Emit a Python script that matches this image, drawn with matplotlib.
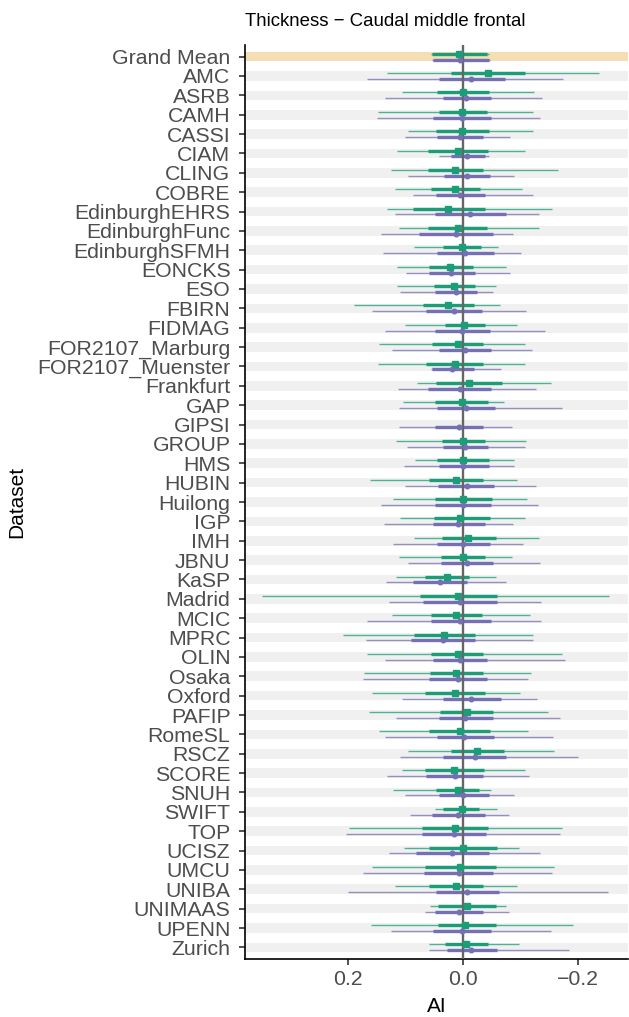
import numpy as np
import matplotlib.pyplot as plt

plt.rcParams["font.family"] = ["Liberation Sans", "DejaVu Sans"]

datasets = [
    "Grand Mean", "AMC", "ASRB", "CAMH", "CASSI", "CIAM", "CLING", "COBRE",
    "EdinburghEHRS", "EdinburghFunc", "EdinburghSFMH", "EONCKS", "ESO",
    "FBIRN", "FIDMAG", "FOR2107_Marburg", "FOR2107_Muenster", "Frankfurt",
    "GAP", "GIPSI", "GROUP", "HMS", "HUBIN", "Huilong", "IGP", "IMH", "JBNU",
    "KaSP", "Madrid", "MCIC", "MPRC", "OLIN", "Osaka", "Oxford", "PAFIP",
    "RomeSL", "RSCZ", "SCORE", "SNUH", "SWIFT", "TOP", "UCISZ", "UMCU",
    "UNIBA", "UNIMAAS", "UPENN", "Zurich",
]

nan = np.nan

# first group: median, 66% and 95% intervals
green_med = [0.007, -0.043, 0.000, 0.002, 0.002, 0.010, 0.014, 0.014, 0.026, 0.010,
             0.002, 0.023, 0.016, 0.026, -0.002, 0.009, 0.014, -0.010, 0.003, nan,
             0.000, 0.000, 0.012, 0.000, 0.005, -0.009, 0.000, 0.028, 0.009, 0.012,
             0.033, 0.010, 0.013, 0.014, -0.006, 0.005, -0.024, 0.016, 0.010, 0.003,
             0.014, 0.000, 0.005, 0.012, -0.007, -0.003, -0.005]
green_hi66 = [0.055, 0.021, 0.045, 0.043, 0.047, 0.062, 0.061, 0.056, 0.088, 0.061,
              0.035, 0.060, 0.051, 0.070, 0.032, 0.054, 0.065, 0.048, 0.049, nan,
              0.037, 0.045, 0.060, 0.049, 0.051, 0.037, 0.038, 0.067, 0.075, 0.056,
              0.086, 0.056, 0.058, 0.066, 0.041, 0.059, 0.021, 0.067, 0.048, 0.035,
              0.071, 0.059, 0.066, 0.059, 0.044, 0.044, 0.032]
green_lo66 = [-0.042, -0.108, -0.044, -0.042, -0.044, -0.043, -0.034, -0.029, -0.037, -0.041,
              -0.031, -0.016, -0.021, -0.019, -0.038, -0.035, -0.035, -0.068, -0.043, nan,
              -0.038, -0.045, -0.035, -0.050, -0.046, -0.056, -0.038, -0.010, -0.059, -0.032,
              -0.020, -0.035, -0.035, -0.038, -0.052, -0.046, -0.071, -0.036, -0.027, -0.028,
              -0.043, -0.058, -0.057, -0.034, -0.057, -0.056, -0.043]
green_hi95 = [0.056, 0.132, 0.107, 0.149, 0.096, 0.115, 0.126, 0.118, 0.133, 0.112,
              0.086, 0.115, 0.115, 0.190, 0.102, 0.147, 0.148, 0.081, 0.105, nan,
              0.117, 0.084, 0.162, 0.123, 0.110, 0.085, 0.111, 0.117, 0.350, 0.124,
              0.210, 0.168, 0.173, 0.158, 0.164, 0.146, 0.097, 0.106, 0.123, 0.049,
              0.198, 0.103, 0.158, 0.118, 0.058, 0.161, 0.060]
green_lo95 = [-0.044, -0.236, -0.123, -0.121, -0.121, -0.107, -0.164, -0.102, -0.155, -0.131,
              -0.061, -0.074, -0.056, -0.064, -0.094, -0.107, -0.108, -0.152, -0.070, nan,
              -0.109, -0.089, -0.093, -0.111, -0.108, -0.132, -0.084, -0.057, -0.254, -0.116,
              -0.121, -0.172, -0.117, -0.099, -0.148, -0.112, -0.157, -0.107, -0.048, -0.059,
              -0.172, -0.096, -0.157, -0.093, -0.075, -0.190, -0.096]

# second group
purple_med = [0.005, -0.013, -0.005, 0.003, 0.006, -0.007, -0.006, 0.006, -0.011, 0.013,
              -0.003, 0.021, 0.013, 0.017, 0.002, -0.003, 0.019, 0.006, -0.004, 0.008,
              -0.003, 0.000, -0.006, 0.001, 0.009, 0.000, -0.006, 0.041, 0.006, 0.005,
              0.035, 0.005, 0.009, -0.014, -0.003, -0.002, -0.020, 0.015, 0.000, 0.009,
              0.016, 0.019, 0.008, -0.006, 0.008, 0.002, -0.013]
purple_hi66 = [0.053, 0.043, 0.035, 0.053, 0.046, 0.022, 0.034, 0.048, 0.050, 0.077,
               0.046, 0.060, 0.050, 0.065, 0.049, 0.043, 0.055, 0.061, 0.046, 0.049,
               0.035, 0.042, 0.044, 0.050, 0.053, 0.045, 0.038, 0.088, 0.070, 0.057,
               0.091, 0.052, 0.060, 0.035, 0.042, 0.046, 0.035, 0.065, 0.043, 0.054,
               0.071, 0.082, 0.068, 0.048, 0.049, 0.052, 0.028]
purple_lo66 = [-0.045, -0.072, -0.048, -0.048, -0.035, -0.038, -0.046, -0.038, -0.074, -0.051,
               -0.054, -0.020, -0.023, -0.032, -0.046, -0.049, -0.019, -0.048, -0.055, -0.035,
               -0.043, -0.045, -0.053, -0.048, -0.038, -0.047, -0.051, -0.006, -0.059, -0.048,
               -0.020, -0.042, -0.041, -0.065, -0.051, -0.053, -0.075, -0.034, -0.045, -0.037,
               -0.039, -0.044, -0.052, -0.062, -0.035, -0.048, -0.058]
purple_hi95 = [0.054, 0.168, 0.136, 0.150, 0.101, 0.043, 0.096, 0.088, 0.119, 0.144,
               0.139, 0.100, 0.110, 0.158, 0.136, 0.124, 0.057, 0.114, 0.112, 0.112,
               0.098, 0.103, 0.102, 0.144, 0.138, 0.123, 0.096, 0.134, 0.129, 0.167,
               0.169, 0.136, 0.174, 0.106, 0.117, 0.136, 0.110, 0.132, 0.101, 0.093,
               0.204, 0.129, 0.175, 0.201, 0.066, 0.126, 0.059]
purple_lo95 = [-0.047, -0.174, -0.136, -0.134, -0.081, -0.045, -0.088, -0.122, -0.132, -0.086,
               -0.100, -0.081, -0.051, -0.109, -0.142, -0.120, -0.066, -0.126, -0.171, -0.084,
               -0.107, -0.089, -0.127, -0.130, -0.087, -0.103, -0.134, -0.075, -0.135, -0.135,
               -0.122, -0.176, -0.113, -0.129, -0.168, -0.156, -0.199, -0.115, -0.088, -0.079,
               -0.169, -0.134, -0.154, -0.251, -0.079, -0.153, -0.184]

GREEN = "#1B9E77"
PURPLE = "#7570B3"

fig = plt.figure(figsize=(6.29, 10.17), dpi=100)
ax = fig.add_axes([245 / 629, 58 / 1017, 383 / 629, 914 / 1017])

y = np.arange(len(datasets))

# row bands, grand mean highlighted
for i in y:
    ax.axhspan(i - 0.25, i + 0.25, color="#F5DEB3" if i == 0 else "#F0F0F0",
               lw=0, zorder=0)

series = [
    (green_med, green_lo66, green_hi66, green_lo95, green_hi95, GREEN, "s", 4.0, -0.15),
    (purple_med, purple_lo66, purple_hi66, purple_lo95, purple_hi95, PURPLE, "o", 3.3, 0.15),
]
for med, lo66, hi66, lo95, hi95, col, mk, ms, dy in series:
    med = np.array(med)
    ok = ~np.isnan(med)
    yy = y[ok] + dy
    ax.hlines(yy, np.array(lo95)[ok], np.array(hi95)[ok], color=col, lw=1.0,
              alpha=0.75, zorder=2)
    ax.hlines(yy, np.array(lo66)[ok], np.array(hi66)[ok], color=col, lw=2.4,
              zorder=3)
    ax.plot(med[ok], yy, mk, ms=ms, color=col, mec=col, zorder=5)

ax.axvline(0, color="#666666", lw=1.7, zorder=4)

ax.set_xlim(0.3797, -0.2864)
ax.set_ylim(len(datasets) - 1 + 0.6, -0.6)
ax.set_yticks(y)
ax.set_yticklabels(datasets)
ax.set_xticks([0.2, 0.0, -0.2])
ax.set_xticklabels(["0.2", "0.0", "\u22120.2"])

for s in ["top", "right"]:
    ax.spines[s].set_visible(False)
for s in ["left", "bottom"]:
    ax.spines[s].set_linewidth(1.2)
    ax.spines[s].set_color("black")
ax.tick_params(length=4, width=1.2, color="#333333", labelsize=15.3,
               labelcolor="#4D4D4D")
ax.tick_params(axis="y", pad=6.5)
ax.tick_params(axis="x", pad=4)

ax.set_ylabel("Dataset", fontsize=15, labelpad=8)
ax.set_xlabel("AI", fontsize=15, labelpad=6)
fig.text(245 / 629, 1 - 26 / 1017, "Thickness \u2212 Caudal middle frontal",
         fontsize=13.4, ha="left", va="baseline")

fig.savefig("out.png", dpi=100)
